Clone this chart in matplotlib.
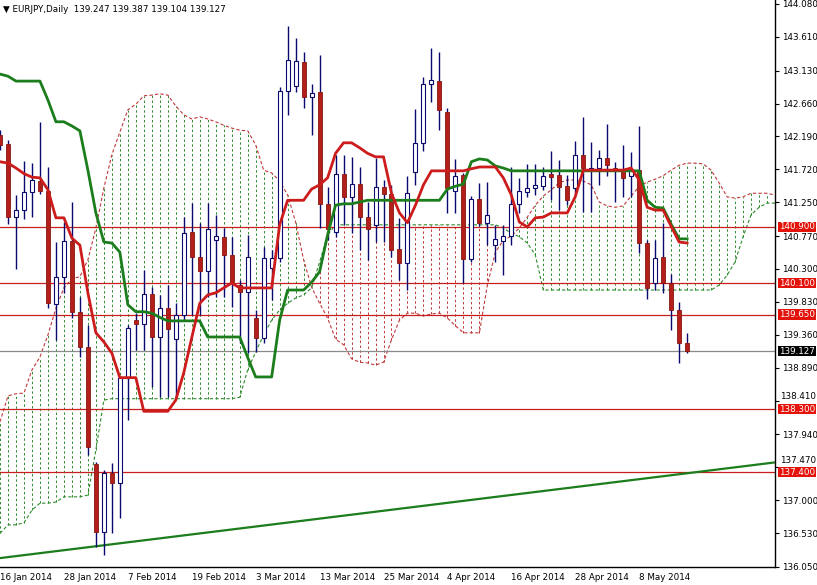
import matplotlib
matplotlib.use('Agg')
import matplotlib.pyplot as plt
import matplotlib.transforms as mtransforms
import numpy as np

# EURJPY daily candles, 16 Jan 2014 .. 16 May 2014
opens = [142.21, 142.08, 141.04, 141.14, 141.40, 141.55, 141.41, 139.80, 140.19, 140.70,
         139.69, 139.19, 137.52, 136.55, 137.39, 137.25, 138.74, 139.57, 139.52, 139.94,
         139.33, 139.74, 139.30, 139.64, 140.83, 140.47, 140.27, 140.71, 140.76, 140.50,
         140.07, 139.97, 139.60, 139.32, 140.31, 140.46, 142.84, 142.91, 143.25, 142.75,
         142.825, 141.23, 140.83, 141.66, 141.33, 141.51, 141.04, 140.93, 141.47, 141.37,
         140.59, 140.39, 141.68, 142.10, 142.94, 142.98, 142.54, 141.41, 141.64, 140.44,
         141.30, 140.96, 140.64, 140.70, 140.77, 141.23, 141.40, 141.46, 141.48, 141.655,
         141.64, 141.48, 141.455, 141.925, 141.71, 141.74, 141.88, 141.74, 141.70, 141.63,
         141.71, 140.67, 140.10, 140.47, 140.10, 139.715, 139.247]
highs = [142.28, 142.14, 141.355, 141.84, 141.81, 142.40, 141.75, 140.68, 140.97, 141.26,
         139.90, 139.50, 137.55, 137.43, 137.53, 138.77, 139.50, 139.67, 140.29, 140.04,
         139.93, 140.07, 139.81, 141.04, 141.24, 140.96, 141.24, 141.07, 140.885, 140.76,
         140.14, 140.785, 139.715, 140.61, 140.57, 142.90, 143.77, 143.60, 143.40, 142.94,
         143.35, 141.47, 141.93, 141.93, 141.90, 141.755, 141.255, 141.88, 141.57, 141.50,
         141.03, 141.63, 142.58, 143.04, 143.45, 143.40, 142.60, 141.87, 141.67, 141.34,
         141.53, 141.54, 140.93, 140.93, 141.755, 141.60, 141.80, 141.80, 141.755, 141.98,
         141.855, 141.64, 142.125, 142.47, 142.11, 142.00, 142.37, 141.83, 142.07, 141.97,
         142.34, 140.71, 140.71, 140.955, 140.23, 139.83, 139.387]
lows = [142.00, 140.94, 140.30, 141.01, 141.04, 141.37, 139.74, 139.29, 139.96, 139.60,
        139.04, 137.65, 136.33, 136.22, 136.53, 136.75, 138.15, 139.14, 139.14, 138.62,
        138.47, 138.47, 138.47, 139.57, 139.64, 139.64, 139.90, 139.90, 139.90, 139.76,
        139.245, 139.10, 139.12, 139.245, 139.86, 140.40, 142.50, 142.825, 142.60, 142.21,
        140.885, 140.71, 140.76, 140.93, 140.81, 140.57, 140.43, 140.685, 140.685, 140.47,
        140.14, 140.00, 141.50, 141.98, 142.68, 142.28, 141.10, 141.10, 140.10, 140.40,
        140.91, 140.64, 140.40, 140.21, 140.64, 141.10, 141.33, 141.355, 141.43, 141.28,
        141.14, 141.21, 141.355, 141.11, 141.11, 141.50, 141.63, 141.255, 141.33, 141.33,
        140.53, 139.87, 140.00, 139.96, 139.43, 138.96, 139.104]
closes = [142.07, 141.04, 141.14, 141.40, 141.57, 141.41, 139.81, 140.19, 140.70, 139.69,
          139.19, 137.76, 136.55, 137.39, 137.25, 138.74, 139.46, 139.52, 139.94, 139.33,
          139.74, 139.44, 139.64, 140.81, 140.47, 140.27, 140.87, 140.77, 140.50, 140.11,
          139.97, 140.47, 139.32, 140.46, 140.46, 142.84, 143.28, 143.27, 142.75, 142.81,
          141.23, 140.87, 141.66, 141.33, 141.51, 141.04, 140.87, 141.47, 141.37, 140.57,
          140.39, 141.38, 142.10, 142.94, 143.00, 142.57, 141.45, 141.63, 140.44, 141.30,
          140.96, 141.07, 140.73, 140.77, 141.23, 141.41, 141.46, 141.50, 141.63, 141.61,
          141.47, 141.28, 141.925, 141.74, 141.74, 141.88, 141.78, 141.70, 141.60, 141.71,
          140.67, 140.03, 140.46, 140.10, 139.715, 139.245, 139.127]

# Ichimoku lines
tenkan = [141.83, 141.81, 141.74, 141.66, 141.61, 141.60, 141.43, 141.03, 141.03, 140.74,
          140.64, 139.96, 139.39, 139.26, 139.10, 138.75, 138.75, 138.75, 138.27, 138.27,
          138.27, 138.27, 138.43, 138.82, 139.32, 139.81, 139.93, 139.96, 140.03, 140.10,
          140.03, 140.03, 140.03, 140.03, 140.03, 140.93, 141.28, 141.28, 141.28, 141.44,
          141.50, 141.60, 141.95, 142.10, 142.10, 142.03, 141.95, 141.90, 141.90, 141.38,
          141.10, 140.96, 141.21, 141.50, 141.70, 141.70, 141.70, 141.70, 141.70, 141.73,
          141.755, 141.755, 141.755, 141.60, 141.355, 140.97, 140.90, 141.03, 141.04, 141.10,
          141.10, 141.10, 141.33, 141.71, 141.71, 141.71, 141.71, 141.71, 141.71, 141.74,
          141.57, 141.18, 141.14, 141.14, 140.91, 140.685, 140.67]
kijun = [143.08, 143.05, 142.98, 142.98, 142.98, 142.98, 142.71, 142.40, 142.40, 142.34,
         142.27, 141.71, 141.10, 140.685, 140.67, 140.54, 139.79, 139.69, 139.69, 139.67,
         139.61, 139.56, 139.56, 139.56, 139.56, 139.56, 139.33, 139.33, 139.33, 139.33,
         139.33, 139.04, 138.76, 138.76, 138.76, 139.57, 140.00, 140.00, 140.00, 140.11,
         140.26, 140.785, 141.21, 141.23, 141.23, 141.255, 141.28, 141.28, 141.28, 141.28,
         141.28, 141.28, 141.28, 141.28, 141.28, 141.28, 141.44, 141.48, 141.51, 141.83,
         141.87, 141.855, 141.77, 141.74, 141.70, 141.70, 141.70, 141.70, 141.70, 141.70,
         141.70, 141.70, 141.70, 141.70, 141.70, 141.70, 141.70, 141.70, 141.70, 141.70,
         141.70, 141.28, 141.18, 141.17, 140.94, 140.73, 140.73]
span_a = [138.12, 138.49, 138.52, 138.53, 138.86, 139.045, 139.36, 139.74, 140.03, 140.16,
          140.19, 140.43, 140.885, 141.455, 141.93, 142.25, 142.57, 142.65, 142.77, 142.78,
          142.80, 142.78, 142.625, 142.50, 142.44, 142.47, 142.44, 142.40, 142.35, 142.31,
          142.28, 142.27, 142.07, 141.71, 141.67, 141.555, 141.355, 140.97, 140.43, 140.04,
          139.81, 139.60, 139.30, 139.22, 139.02, 138.97, 138.96, 138.93, 138.97, 139.29,
          139.57, 139.67, 139.67, 139.63, 139.66, 139.67, 139.60, 139.49, 139.39, 139.39,
          139.39, 140.07, 140.54, 140.71, 140.77, 140.885, 141.04, 141.21, 141.34, 141.43,
          141.53, 141.57, 141.57, 141.555, 141.50, 141.255, 141.20, 141.18, 141.20, 141.34,
          141.48, 141.54, 141.58, 141.63, 141.71, 141.78, 141.81, 141.81, 141.80, 141.71,
          141.53, 141.33, 141.31, 141.33, 141.38, 141.38, 141.38, 141.355]
span_b = [136.53, 136.65, 136.65, 136.68, 136.86, 136.96, 136.96, 136.976, 137.05, 137.05,
          137.05, 137.075, 137.72, 138.43, 138.45, 138.45, 138.45, 138.45, 138.45, 138.45,
          138.45, 138.45, 138.45, 138.45, 138.45, 138.45, 138.45, 138.45, 138.45, 138.45,
          138.47, 138.86, 139.115, 139.36, 139.57, 139.715, 139.81, 139.886, 139.93, 140.03,
          140.40, 140.785, 140.93, 140.93, 140.93, 140.93, 140.93, 140.93, 140.93, 140.93,
          140.93, 140.93, 140.93, 140.93, 140.93, 140.93, 140.93, 140.93, 140.93, 140.93,
          140.93, 140.93, 140.93, 140.885, 140.81, 140.76, 140.67, 140.50, 140.00, 140.00,
          140.00, 140.00, 140.00, 140.00, 140.00, 140.00, 140.00, 140.00, 140.00, 140.00,
          140.00, 140.00, 140.00, 140.00, 140.00, 140.00, 140.00, 140.00, 140.00, 140.00,
          140.07, 140.21, 140.40, 140.76, 141.07, 141.18, 141.24, 141.24]

# horizontal levels, bid line, trend line
levels = [140.900, 140.100, 139.650, 138.300, 137.400]
bid = 139.127
trend_idx = [0, 97]
trend_px = [136.176, 137.541]

price_ticks = [144.080, 143.610, 143.130, 142.660, 142.190, 141.720, 141.250, 140.770, 140.300,
               139.830, 139.360, 138.890, 138.410, 137.940, 137.470, 137.000, 136.530, 136.050]
# tick labels that sit under a level box get nudged up (pixels)
lifted = {138.410: 5, 137.470: 7}
date_idx = [0, 8, 16, 24, 32, 40, 48, 56, 64, 72, 80]
date_labels = ['16 Jan 2014', '28 Jan 2014', '7 Feb 2014', '19 Feb 2014', '3 Mar 2014',
               '13 Mar 2014', '25 Mar 2014', '4 Apr 2014', '16 Apr 2014', '28 Apr 2014',
               '8 May 2014']

RED = '#b3201b'
NAVY = '#0a0a6e'
GREEN = '#1b7d1b'
FS = 6.3

fig = plt.figure(figsize=(8.17, 5.85), dpi=100)
ax = fig.add_axes([0, 18 / 585, 775 / 817, 567 / 585])

# cloud hatching
na = len(span_a)
xi = np.arange(na)
a = np.array(span_a)
b = np.array(span_b)
up = a >= b
ax.vlines(xi[up], b[up], a[up], colors='#2e8b2e', linewidth=0.7,
          linestyles=(0, (2.5, 2.5)), zorder=1)
ax.vlines(xi[~up], a[~up], b[~up], colors='#c0393b', linewidth=0.7,
          linestyles=(0, (2.5, 2.5)), zorder=1)
ax.plot(xi, a, color='#c0393b', lw=0.8, ls=(0, (3, 2)), zorder=2)
ax.plot(xi, b, color='#2e8b2e', lw=0.8, ls=(0, (3, 2)), zorder=2)

# levels
for lv in levels:
    ax.axhline(lv, color='#c81e1e', lw=0.9, zorder=2)
ax.axhline(bid, color='#8a8a8a', lw=0.9, zorder=2)
ax.plot(trend_idx, trend_px, color=GREEN, lw=1.6, zorder=3)

# candles
o = np.array(opens)
h = np.array(highs)
l = np.array(lows)
c = np.array(closes)
xc = np.arange(len(o))
ax.vlines(xc, l, h, colors=NAVY, linewidth=1.0, zorder=4)
bull = c >= o
bh = np.abs(c - o)
bh = np.maximum(bh, 0.02)
ax.bar(xc[bull], bh[bull], bottom=o[bull], width=0.5, facecolor='white',
       edgecolor=NAVY, linewidth=0.8, zorder=5)
ax.bar(xc[~bull], bh[~bull], bottom=c[~bull], width=0.5, facecolor=RED,
       edgecolor='#8a1410', linewidth=0.6, zorder=5)

# tenkan / kijun
ax.plot(np.arange(len(kijun)), kijun, color=GREEN, lw=2.0, zorder=6)
ax.plot(np.arange(len(tenkan)), tenkan, color='#cc1c1c', lw=2.0, zorder=6)

ax.set_xlim(0.125, 97)
ax.set_ylim(136.049, 144.137)

for s in ['left', 'top']:
    ax.spines[s].set_visible(False)
for s in ['right', 'bottom']:
    ax.spines[s].set_color('black')
    ax.spines[s].set_linewidth(1.0)

ax.yaxis.tick_right()
ax.set_yticks(price_ticks)
ax.set_yticklabels(['' if t in lifted else '%.3f' % t for t in price_ticks])
ax.tick_params(axis='y', labelsize=FS, length=3, pad=2, width=0.8)
ax.set_xticks(date_idx)
ax.set_xticklabels(date_labels, ha='left')
ax.tick_params(axis='x', labelsize=FS, length=0, pad=4)

trans = mtransforms.blended_transform_factory(ax.transAxes, ax.transData)
for t, dy in lifted.items():
    ax.annotate('%.3f' % t, xy=(1.0, t), xycoords=trans, xytext=(5 * 0.72, dy * 0.72),
                textcoords='offset points', ha='left', va='center', fontsize=FS,
                annotation_clip=False)

for lv in levels:
    ax.text(1.0 + 4 / 775, lv, '%.3f' % lv, transform=trans, ha='left', va='center',
            fontsize=FS, color='white', zorder=10, clip_on=False,
            bbox=dict(boxstyle='square,pad=0.08', fc='#e3120b', ec='none'))
ax.text(1.0 + 4 / 775, bid, '%.3f' % bid, transform=trans, ha='left', va='center',
        fontsize=FS, color='white', zorder=10, clip_on=False,
        bbox=dict(boxstyle='square,pad=0.08', fc='black', ec='none'))

fig.text(3 / 817, 1 - 9 / 585, '\u25bc EURJPY,Daily  139.247 139.387 139.104 139.127',
         fontsize=FS, va='center', ha='left')

fig.savefig('out.png', dpi=100)
